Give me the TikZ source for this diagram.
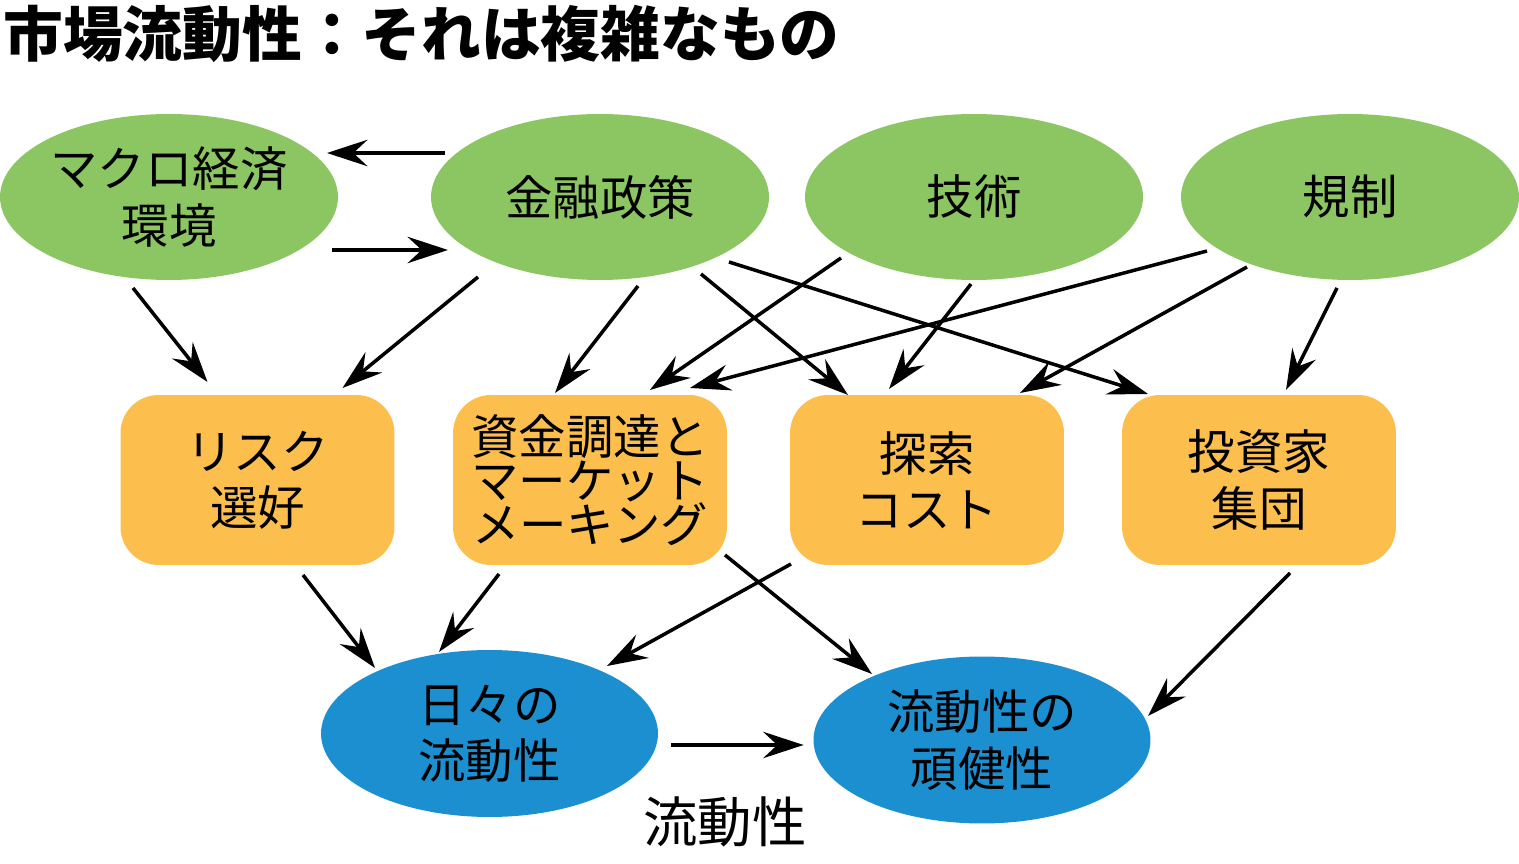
\documentclass[tikz,border=0pt]{standalone}
\usepackage{fontspec}
\setmainfont{Noto Sans CJK JP}
\usepackage{tikz}
\usetikzlibrary{arrows.meta,shapes.geometric}
\usepackage{xcolor}
\definecolor{leafgreen}{RGB}{140,198,99}
\definecolor{boxorange}{RGB}{252,191,78}
\definecolor{poolblue}{RGB}{27,143,208}

\begin{document}
\begin{tikzpicture}[x=0.02cm,y=-0.02cm,
  every node/.style={font=\fontsize{27}{32}\selectfont,align=center,inner sep=0pt},
  driver/.style={ellipse,fill=leafgreen,minimum width=6.76cm,minimum height=3.32cm},
  channel/.style={rectangle,rounded corners=0.76cm,fill=boxorange,minimum width=5.48cm,minimum height=3.4cm},
  outcome/.style={ellipse,fill=poolblue,minimum width=6.74cm,minimum height=3.34cm},
  conn/.style={line width=2pt,-{Stealth[length=23pt,width=15pt,inset=8pt]}}]
\useasboundingbox (0,0) rectangle (1519,864);
% title
\node[anchor=west,font=\fontsize{34}{40}\selectfont\bfseries] (title) at (3,34) {市場流動性：それは複雑なもの};
% top row
\node[driver] (macro) at (169,197) {マクロ経済\\環境};
\node[driver] (policy) at (600,197) {金融政策};
\node[driver] (tech) at (974,197) {技術};
\node[driver] (regu) at (1350,197) {規制};
% middle row
\node[channel] (risk) at (257.5,480) {リスク\\選好};
\node[channel,font=\fontsize{27}{25}\selectfont] (fund) at (590,480) {資金調達と\\マーケット\\メーキング};
\node[channel] (search) at (927,480) {探索\\コスト};
\node[channel] (investor) at (1259,480) {投資家\\集団};
% bottom row
\node[outcome] (daily) at (489.5,733.5) {日々の\\流動性};
\node[outcome] (robust) at (982,740) {流動性の\\頑健性};
\node[font=\fontsize{31}{36}\selectfont] (liqlabel) at (725,822) {流動性};
% connectors
\draw[conn] ([shift={(-155,-44)}]policy.center) -- ([shift={(158,-44)}]macro.center);
\draw[conn] ([shift={(163,53)}]macro.center) -- ([shift={(-152,53)}]policy.center);
\draw[conn] ([shift={(-36,91)}]macro.center) -- ([shift={(-50,-98)}]risk.center);
\draw[conn] ([shift={(-122,80)}]policy.center) -- ([shift={(85,-92)}]risk.center);
\draw[conn] ([shift={(38,89)}]policy.center) -- ([shift={(-35,-87)}]fund.center);
\draw[conn] ([shift={(101,77)}]policy.center) -- ([shift={(-79,-85)}]search.center);
\draw[conn] ([shift={(129,65)}]policy.center) -- ([shift={(-111,-86)}]investor.center);
\draw[conn] ([shift={(-133,61)}]tech.center) -- ([shift={(60,-90)}]fund.center);
\draw[conn] ([shift={(-3,87)}]tech.center) -- ([shift={(-38,-91)}]search.center);
\draw[conn] ([shift={(-143,54)}]regu.center) -- ([shift={(100,-92)}]fund.center);
\draw[conn] ([shift={(-103,70)}]regu.center) -- ([shift={(93,-87)}]search.center);
\draw[conn] ([shift={(-13,91)}]regu.center) -- ([shift={(27,-90)}]investor.center);
\draw[conn] ([shift={(45.5,95)}]risk.center) -- ([shift={(-114.5,-65.5)}]daily.center);
\draw[conn] ([shift={(-91,94)}]fund.center) -- ([shift={(-50.5,-81.5)}]daily.center);
\draw[conn] ([shift={(135,75)}]fund.center) -- ([shift={(-110,-66)}]robust.center);
\draw[conn] ([shift={(-136,84)}]search.center) -- ([shift={(117.5,-67.5)}]daily.center);
\draw[conn] ([shift={(31,93)}]investor.center) -- ([shift={(166,-24)}]robust.center);
\draw[conn] ([shift={(181.5,11.5)}]daily.center) -- ([shift={(-178.4,5)}]robust.center);
\end{tikzpicture}
\end{document}
